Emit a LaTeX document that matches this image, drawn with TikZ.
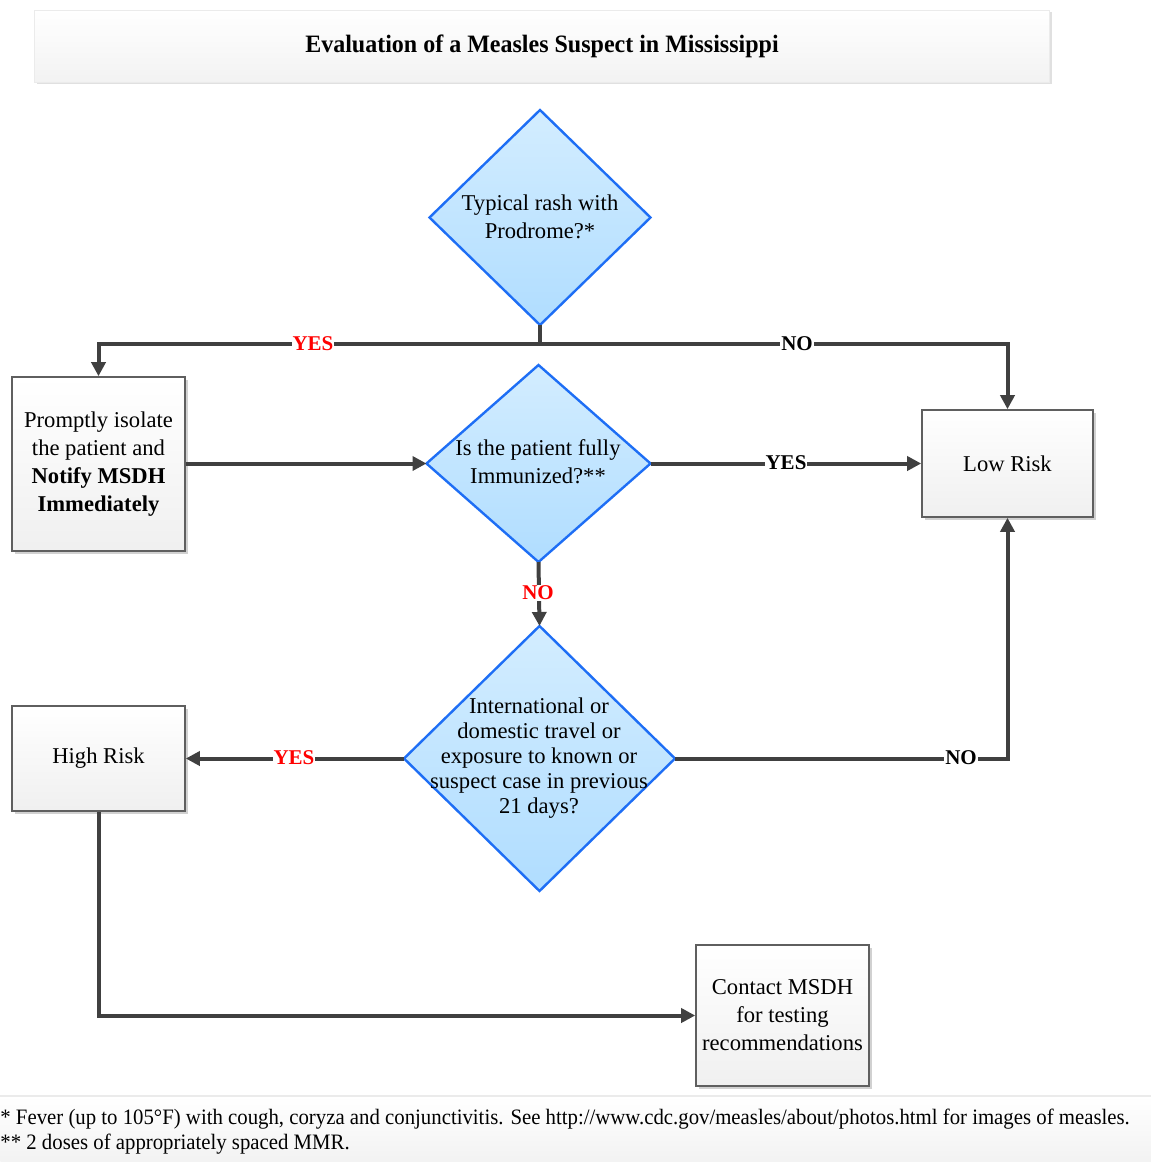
\documentclass[tikz,border=0pt]{standalone}
\usepackage{fontspec}
\setmainfont{Liberation Serif}
\usetikzlibrary{shapes.geometric,shadows,arrows.meta}
\definecolor{linegray}{HTML}{404040}
\definecolor{boxborder}{HTML}{5F5F5F}
\definecolor{diablue}{HTML}{1E6EF5}
\definecolor{diatop}{HTML}{D3EDFF}
\definecolor{diabot}{HTML}{B0DDFF}
\definecolor{yesred}{HTML}{FF0000}
\begin{document}
\begin{tikzpicture}[x=0.5pt,y=-0.5pt,
  every node/.style={font=\fontsize{11.3}{14}\selectfont},
  boxnode/.style={draw=boxborder, line width=0.8pt, top color=white, bottom color=black!6,
    minimum width=86.5pt, align=center, inner sep=0pt,
    drop shadow={shadow xshift=1.5pt, shadow yshift=-1.5pt, fill=black!18, opacity=1}},
  dianode/.style={diamond, draw=diablue, line width=1.2pt, top color=diatop, bottom color=diabot,
    inner sep=0pt, outer sep=0pt},
  conn/.style={draw=linegray, line width=2pt},
  arr/.style={conn, -{Triangle[length=7pt,width=7pt]}},
  lbl/.style={fill=white, inner sep=0.5pt, font=\fontsize{10.5}{12}\selectfont\bfseries},
  foottext/.style={anchor=west, inner sep=0pt, font=\fontsize{11}{12.6}\selectfont},
]
\useasboundingbox (0,0) rectangle (1151,1162);
% title
\node[draw=black!8, top color=white, bottom color=black!5, minimum width=507.5pt, minimum height=36pt,
  drop shadow={shadow xshift=1pt, shadow yshift=-1.2pt, fill=black!12, opacity=1}]
  (title) at (542,46) {\scalebox{0.96}[1]{\fontsize{12.5}{14}\selectfont\bfseries Evaluation of a Measles Suspect in Mississippi}};
% footer band
\node[top color=white, bottom color=black!5, minimum width=575.5pt, minimum height=33pt, inner sep=0pt,
  anchor=north west] (footband) at (0,1096) {};
\draw[black!8, line width=0.6pt] (footband.north west) -- (footband.north east);
\node[foottext] (foot1) at (0,1119)
  {\scalebox{0.945}[1]{* Fever (up to 105°F) with cough, coryza and conjunctivitis. See http://www.cdc.gov/measles/about/photos.html for images of measles.}};
\node[foottext] (foot2) at (0,1144)
  {\scalebox{0.945}[1]{** 2 doses of appropriately spaced MMR.}};
% diamonds
\node[dianode, minimum width=110.5pt, minimum height=107.5pt] (d1) at (540,217.5) {};
\node[align=center] (t1) at (540,217) {Typical rash with\\Prodrome?*};
\node[dianode, minimum width=112pt, minimum height=98.5pt] (d2) at (538.5,463.5) {};
\node[align=center] (t2) at (538,462) {Is the patient fully\\Immunized?**};
\node[dianode, minimum width=135.5pt, minimum height=132.5pt] (d3) at (539.5,758.5) {};
\node[align=center, font=\fontsize{11.3}{12.6}\selectfont] (t3) at (539,758)
  {International or\\domestic travel or\\exposure to known or\\suspect case in previous\\21 days?};
% boxes
\node[boxnode, minimum height=87pt] (iso) at (98.5,464) {Promptly isolate\\the patient and\\\textbf{Notify MSDH}\\\textbf{Immediately}};
\node[boxnode, minimum width=85.5pt, minimum height=53.5pt] (low) at (1007.5,463.5) {Low Risk};
\node[boxnode, minimum height=52.5pt] (high) at (98.5,758.5) {High Risk};
\node[boxnode, minimum height=70.5pt] (contact) at (782.5,1015.5) {Contact MSDH\\for testing\\recommendations};
% connectors
\coordinate (split) at (540,344);
\draw[conn] (d1.south) -- (split);
\draw[arr] (split) -| (iso.north);
\draw[arr] (split) -| (low.north);
\node[lbl, text=yesred] (l1) at (313,344) {YES};
\node[lbl] (l2) at (797,344) {NO};
\draw[arr] (iso.east |- d2.west) -- (d2.west);
\draw[arr] (d2.east) -- (low.west);
\node[lbl] (l3) at (786,463) {YES};
\draw[arr] (d2.south) -- (d3.north);
\node[lbl, text=yesred] (l4) at (538,593) {NO};
\draw[arr] (d3.west) -- (high.east);
\node[lbl, text=yesred] (l5) at (294,758) {YES};
\draw[arr] (d3.east) -| (low.south);
\node[lbl] (l6) at (961,758) {NO};
\draw[arr] (high.south) |- (contact.west);
\end{tikzpicture}
\end{document}
